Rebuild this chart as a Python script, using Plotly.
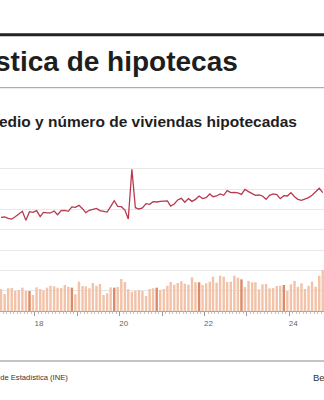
import plotly.graph_objects as go

# Monthly categories: March 2017 .. October 2024 (mid-month positions)
meses = [f"{a}-{m:02d}-15" for a in range(2017, 2025) for m in range(1, 13)][2:2 + 92]

# Importe medio (miles de euros)
importe = [
    112.3, 112.6, 111.3, 110.6, 112.9, 115.6, 118.2, 109.3, 117.9, 117.2,
    118.9, 112.9, 117.2, 116.6, 116.6, 118.5, 114.9, 118.9, 119.2, 118.2, 122.5, 122.1,
    124.1, 120.8, 116.9, 119.2, 120.5, 121.1, 118.9, 117.9, 117.5, 122.8, 128.7, 123.1,
    122.8, 119.5, 110.6, 159.6, 121.8, 120.5, 121.5, 125.8, 125.1, 127.7, 127.4, 128.0,
    128.4, 128.4, 123.4, 125.4, 129.4, 131.0, 127.1, 130.7, 128.0, 130.0, 133.3, 130.7,
    131.7, 135.3, 132.6, 133.3, 135.3, 134.0, 138.6, 136.6, 136.9, 136.3, 134.9, 139.9,
    137.6, 135.3, 134.0, 134.3, 133.3, 130.0, 134.0, 135.3, 134.6, 130.7, 133.6, 133.3,
    136.6, 132.6, 130.0, 129.0, 130.0, 131.7, 134.0, 137.6, 140.9, 136.6,
]

# Número de viviendas hipotecadas (miles)
viviendas = [
    21.7, 16.7, 22.4, 22.7, 19.7, 20.7, 23.0, 19.7, 19.7, 15.8,
    23.3, 21.7, 20.4, 23.0, 24.9, 24.3, 23.0, 22.7, 25.6, 23.9, 23.0, 16.5,
    28.9, 24.6, 24.3, 22.4, 27.6, 24.9, 26.6, 15.8, 17.4, 23.3, 23.0, 23.6,
    31.5, 28.6, 21.4, 19.0, 20.0, 20.7, 19.7, 14.8, 21.7, 22.4, 23.0, 20.7,
    21.7, 24.9, 28.6, 25.9, 27.6, 29.3, 26.9, 25.9, 33.2, 28.3, 28.3, 25.6,
    27.3, 28.9, 33.8, 27.9, 34.8, 33.8, 28.6, 28.9, 34.8, 32.8, 31.2, 23.6,
    29.6, 28.3, 28.3, 21.4, 26.3, 26.6, 22.4, 22.7, 24.6, 24.9, 25.6, 19.7,
    26.3, 29.6, 23.9, 27.3, 21.7, 24.9, 28.9, 23.9, 34.8, 40.4,
]

anios = list(range(2018, 2025))
etiquetas = ["18", "", "20", "", "22", "", "24"]

titulo = "Estadística de hipotecas"
subtitulo = "Importe medio y número de viviendas hipotecadas"
fuente = "Fuente: Instituto Nacional de Estadística (INE)"
credito = "Bez.es"

W, H = 324, 400
TOP, BOT = 149, 311  # plot area in pixels


def px_x(x):
    return x / W


def px_y(y):
    return (BOT - y) / (BOT - TOP)


colores = ["#dc8b68" if m[5:7] == "11" else "#f2c3a9" for m in meses]

fig = go.Figure()
fig.add_trace(go.Bar(
    x=meses, y=viviendas, marker=dict(color=colores, line=dict(width=0)),
    width=21 * 86400000, yaxis="y", hoverinfo="skip",
))
fig.add_trace(go.Scatter(
    x=meses, y=importe, mode="lines", yaxis="y2",
    line=dict(color="#b8394d", width=1.3), hoverinfo="skip",
))

sans = "Liberation Sans, Arial, Helvetica, sans-serif"

fig.update_layout(
    width=W, height=H,
    margin=dict(l=0, r=0, t=TOP, b=H - BOT, pad=0),
    paper_bgcolor="white", plot_bgcolor="white",
    showlegend=False,
    xaxis=dict(
        type="date", range=["2017-03-06", "2024-10-26"],
        tickmode="array", tickvals=[f"{a}-01-01" for a in anios], ticktext=etiquetas,
        ticks="outside", ticklen=4, tickwidth=1, tickcolor="#9a9a9a",
        tickfont=dict(family=sans, size=8, color="#666666"),
        ticklabelshift=4,
        showgrid=False, showline=True, linecolor="#a8a8a8", linewidth=1,
        zeroline=False,
        minor=dict(ticks="outside", ticklen=2, tickcolor="#c4c4c4", dtick="M1",
                   tick0="2017-01-01", showgrid=False),
    ),
    yaxis=dict(
        range=[0, 159.6], dtick=20, tick0=0, showticklabels=False,
        gridcolor="#e8e8e8", gridwidth=1, zeroline=False, ticks="",
    ),
    yaxis2=dict(
        range=[20, 179.6], overlaying="y", side="right", showgrid=False,
        showticklabels=False, zeroline=False, ticks="",
    ),
    shapes=[
        dict(type="line", xref="paper", yref="paper", x0=0, x1=1,
             y0=px_y(34.7), y1=px_y(34.7), line=dict(color="#222222", width=3)),
        dict(type="line", xref="paper", yref="paper", x0=0, x1=1,
             y0=px_y(87.7), y1=px_y(87.7), line=dict(color="#9a9a9a", width=1)),
        dict(type="line", xref="paper", yref="paper", x0=0, x1=1,
             y0=px_y(361), y1=px_y(361), line=dict(color="#8a8a8a", width=1.2)),
    ],
    annotations=[
        dict(text=f"<b>{titulo}</b>", xref="paper", yref="paper",
             x=px_x(240), y=px_y(61), xanchor="right", yanchor="middle",
             showarrow=False, font=dict(family=sans, size=28, color="#1e1e1e")),
        dict(text=f"<b>{subtitulo}</b>", xref="paper", yref="paper",
             x=px_x(298.5), y=px_y(121.5), xanchor="right", yanchor="middle",
             showarrow=False, font=dict(family=sans, size=15.5, color="#1e1e1e")),
        dict(text=fuente, xref="paper", yref="paper",
             x=px_x(69.5), y=px_y(377), xanchor="right", yanchor="middle",
             showarrow=False, font=dict(family=sans, size=7.6, color="#333333")),
        dict(text=credito, xref="paper", yref="paper",
             x=px_x(311), y=px_y(377), xanchor="left", yanchor="middle",
             showarrow=False, font=dict(family=sans, size=9.5, color="#333333")),
    ],
)

fig.write_html("out.html")
